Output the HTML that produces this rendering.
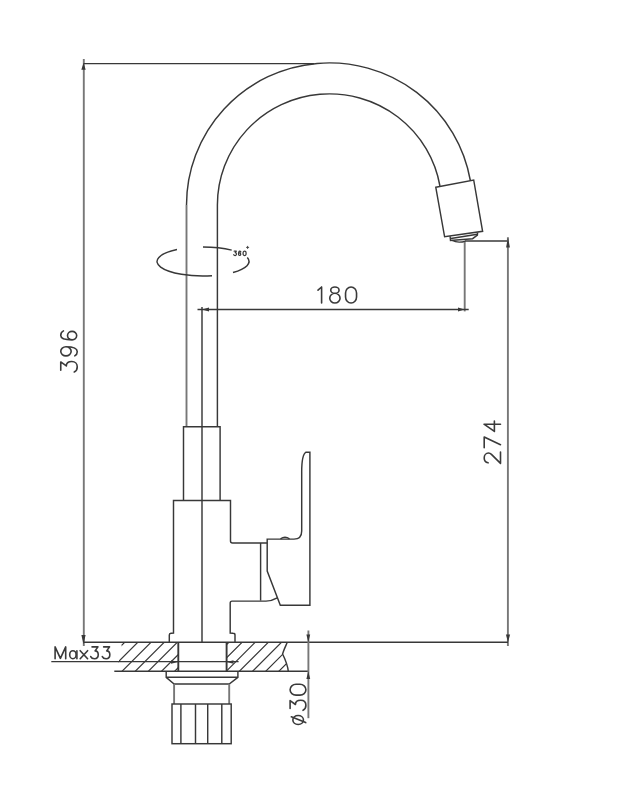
<!DOCTYPE html>
<html><head><meta charset="utf-8">
<style>
html,body{margin:0;padding:0;background:#fff;width:617px;height:800px;overflow:hidden}
svg{display:block}
text{font-family:"Liberation Sans",sans-serif;fill:#3a3a3a}
.gv{stroke:#777;stroke-width:1.9}
</style></head>
<body>
<svg width="617" height="800" viewBox="0 0 617 800">
<rect width="617" height="800" fill="#fff"/>
<g fill="none" stroke="#383838" stroke-width="1.45" stroke-linejoin="miter">
<!-- 396 dimension -->
<line class="gv" x1="83.8" y1="59" x2="83.8" y2="646"/>
<line x1="83.5" y1="63.6" x2="314" y2="63.6"/>
<!-- spout outer/inner arcs -->
<line class="gv" x1="186.5" y1="426.8" x2="186.5" y2="205"/><path d="M186.5,205.01 A143,142.1 0 0 1 470.36,180.5"/><path d="M217.4,426.8 L217.4,205 A112.1,111.1 0 0 1 439.95,186"/>
<!-- nozzle -->
<path d="M435.8,187.3 L473.7,180 L482.6,231.3 L444.6,236.8 Z"/>
<path d="M450.1,236.2 L450.5,240.5 L472.6,238.7 L477.4,235.2 L477.6,232.5"/>
<path d="M451,238.5 L477.3,234.2"/>
<path d="M452.2,240.4 Q457.5,243.4 465.5,241.2"/>
<!-- 274 dimension -->
<line x1="465" y1="241" x2="508" y2="241"/>
<line class="gv" x1="507.9" y1="237.3" x2="507.9" y2="646"/>
<line x1="300" y1="642.3" x2="508" y2="642.3"/>
<!-- 180 dimension -->
<line class="gv" x1="464.7" y1="242" x2="464.7" y2="311.4"/>
<line x1="197.5" y1="309.5" x2="468.7" y2="309.5"/>
<line x1="202" y1="307" x2="202" y2="642.2"/>
<!-- 360 symbol -->
<path d="M177.00,249.54 A46,14.5 0 0 0 212.00,275.72"/><path d="M203.00,247.00 A46,14.5 0 0 1 231.70,250.17"/><path d="M233.00,272.49 A46,14.5 0 0 0 247.30,257.59"/>
<!-- sleeve -->
<path d="M183.5,500.4 L183.5,426.8 L220.1,426.8 L220.1,500.4"/>
<!-- body -->
<path d="M169.3,642.2 L169.3,635 Q169.3,633.5 171,633.3 L173.5,633 L173.5,500.4 L230.5,500.4 L230.5,541 Q230.5,543 232.5,543 L267.3,543"/>
<path d="M235,642.2 L235,635 Q235,633.3 233,633.3 L230.2,633 L230.2,603.2 Q230.2,601.1 232,601.1 L266,601.1 Q272,601 277.2,597.9"/>
<!-- handle -->
<path d="M267.2,571.1 L267.2,539.1 L294,539.1 Q301.7,539.1 301.7,531 L301.7,472 C301.7,461 302.8,454 306,452.2 L309.9,452.2 L309.9,605.3 L280.3,605.3 Z"/>
<path d="M280.5,538.8 Q285,535.6 289.5,538.8"/>
<line x1="260.6" y1="543" x2="260.6" y2="600.6"/>
<!-- countertop -->
<line x1="84" y1="642.3" x2="300" y2="642.3"/>
<line x1="114.3" y1="671.3" x2="308.3" y2="671.3"/>
<line x1="51.3" y1="661.6" x2="238.6" y2="661.6"/>
<!-- shank -->
<line x1="178.3" y1="642.3" x2="178.3" y2="671.3" stroke-width="1.9"/>
<line x1="226.6" y1="642.3" x2="226.6" y2="671.3" stroke-width="1.9"/>
<!-- nut -->
<path d="M166.2,671.3 L166.2,677.3 L174.1,684 L229.2,684 L237.9,677.3 L237.9,671.3"/>
<line x1="166.2" y1="677.3" x2="237.9" y2="677.3"/>
<line class="gv" x1="174.1" y1="684" x2="174.1" y2="704"/>
<line class="gv" x1="229.2" y1="684" x2="229.2" y2="704"/>
<rect x="172" y="704" width="59.2" height="39.7"/>
<line x1="180.9" y1="704" x2="180.9" y2="743.7"/>
<line x1="195.5" y1="704" x2="195.5" y2="743.7"/>
<line x1="207.7" y1="704" x2="207.7" y2="743.7"/>
<line x1="221.8" y1="704" x2="221.8" y2="743.7"/>
<!-- break line -->
<path d="M287.3,642.3 C285.5,646.5 283.5,650.5 282.6,654 C285,659 287.5,664 288.3,671.3"/>
<!-- dia30 dim -->
<line class="gv" x1="308.4" y1="630.5" x2="308.4" y2="718.2"/>
</g>
<!-- hatch -->
<clipPath id="hl"><path d="M119.5,642.3 L121.8,645.8 L118.6,662.5 L114.3,671.3 L178.1,671.3 L178.1,642.3 Z"/></clipPath>
<clipPath id="hr"><path d="M226.4,642.3 L226.4,671.3 L288.3,671.3 C287.5,664 285,659 282.6,654 C283.5,650.5 285.5,646.5 287.3,642.3 Z"/></clipPath>
<g stroke="#383838" stroke-width="1.2" clip-path="url(#hl)"><path d="M753.9,0 L0,753.9 M767.0,0 L0,767.0 M780.1,0 L0,780.1 M793.3,0 L0,793.3 M806.5,0 L0,806.5 M819.6,0 L0,819.6 M832.8,0 L0,832.8 M845.9,0 L0,845.9 M859.0,0 L0,859.0"/></g>
<g stroke="#383838" stroke-width="1.2" clip-path="url(#hr)"><path d="M858.0,0 L0,858.0 M871.2,0 L0,871.2 M884.4,0 L0,884.4 M897.5,0 L0,897.5 M910.6,0 L0,910.6 M923.8,0 L0,923.8 M937.0,0 L0,937.0 M950.1,0 L0,950.1 M963.2,0 L0,963.2"/></g>
<!-- arrowheads -->
<g fill="#383838">
<path d="M83.5,63 L81.3,69.8 L85.7,69.8 Z"/>
<path d="M83.5,644.5 L81.4,635 L85.6,635 Z"/>
<path d="M508,237.3 L506.1,247.4 L509.9,247.4 Z"/>
<path d="M508,642.3 L505.9,634.5 L510.1,634.5 Z"/>
<path d="M202,309.5 L209,307.6 L209,311.4 Z"/>
<path d="M464.7,309.5 L458,307.6 L458,311.4 Z"/>
<path d="M308.3,642.3 L306.4,634.5 L310.2,634.5 Z"/>
<path d="M308.3,671.3 L306.4,679 L310.2,679 Z"/>
<path d="M178.1,662 L171,660.2 L171,663.8 Z"/>
<path d="M226.4,662 L233.5,660.2 L233.5,663.8 Z"/>
</g>
<g fill="none" stroke="#3a3a3a" stroke-width="1.6" stroke-linecap="round" stroke-linejoin="round"><path transform="translate(318,303)" d="M3.6,-16 V0 M3.6,-16 L0,-12.8" vector-effect="non-scaling-stroke"/><path transform="translate(329.75,303)" d="M5.15,-16 A4.15,3.15 0 1 0 5.15,-9.7 A4.15,3.15 0 1 0 5.15,-16 Z M5.15,-9.7 A5.15,4.85 0 1 0 5.15,0 A5.15,4.85 0 1 0 5.15,-9.7 Z" vector-effect="non-scaling-stroke"/><path transform="translate(345.55,303)" d="M0,-10 V-6 A5.5,6 0 0 0 11,-6 V-10 A5.5,6 0 0 0 0,-10 Z" vector-effect="non-scaling-stroke"/></g>
<g fill="none" stroke="#3a3a3a" stroke-width="1.6" stroke-linecap="round" stroke-linejoin="round"><path transform="translate(77.25,372.35) rotate(-90) scale(1.03125)" d="M2.1,-16 H10.1 L6.2,-10.6 C8.9,-10.6 10.5,-8.5 10.5,-5.3 C10.5,-2 8.4,0 5.4,0 C3.1,0 1.1,-1.2 0.3,-2.9" vector-effect="non-scaling-stroke"/><path transform="translate(77.25,355.85) rotate(-90) scale(1.03125)" d="M4.4,-16 A4.4,5.05 0 1 0 4.4,-5.9 A4.4,5.05 0 1 0 4.4,-16 Z M8.8,-10.95 C8.8,-4.5 7,0 4,0 C2.2,0 0.8,-1 0,-2.4" vector-effect="non-scaling-stroke"/><path transform="translate(77.25,340.6) rotate(-90) scale(1.03125)" d="M4.85,-9.45 A4.1,4.45 0 1 0 4.85,-0.55 A4.1,4.45 0 1 0 4.85,-9.45 Z M0.75,-5 C0.75,-12 2.5,-16 5,-16 C7,-16 8.6,-15 9.4,-13.4" vector-effect="non-scaling-stroke"/></g>
<g fill="none" stroke="#3a3a3a" stroke-width="1.6" stroke-linecap="round" stroke-linejoin="round"><path transform="translate(500.5,463.85) rotate(-90) scale(1.01875)" d="M1,-12.2 C1.5,-14.7 3.5,-16 5.8,-16 C8.6,-16 10.6,-14.2 10.6,-11.8 C10.6,-10.6 10.1,-9.7 9.3,-8.9 L0.5,0 H11.7" vector-effect="non-scaling-stroke"/><path transform="translate(500.5,448.25) rotate(-90) scale(1.01875)" d="M0.5,-16 H11 L3.5,0" vector-effect="non-scaling-stroke"/><path transform="translate(500.5,431.45) rotate(-90) scale(1.01875)" d="M7.1,0 V-16.2 L0,-6 H10.3" vector-effect="non-scaling-stroke"/></g>
<g fill="none" stroke="#3a3a3a" stroke-width="1.6" stroke-linecap="round" stroke-linejoin="round"><path transform="translate(305.9,710.6) rotate(-90) scale(0.9875)" d="M2.1,-16 H10.1 L6.2,-10.6 C8.9,-10.6 10.5,-8.5 10.5,-5.3 C10.5,-2 8.4,0 5.4,0 C3.1,0 1.1,-1.2 0.3,-2.9" vector-effect="non-scaling-stroke"/><path transform="translate(305.9,695.15) rotate(-90) scale(0.9875)" d="M0,-10 V-6 A5.5,6 0 0 0 11,-6 V-10 A5.5,6 0 0 0 0,-10 Z" vector-effect="non-scaling-stroke"/></g>
<g fill="none" stroke="#3a3a3a" stroke-width="1.6" stroke-linecap="round" transform="translate(305.9,725) rotate(-90)"><ellipse cx="5" cy="-7.75" rx="4.45" ry="5.3"/><path d="M8.2,-14.6 L2.4,-0.2"/></g>
<g fill="none" stroke="#3a3a3a" stroke-width="1.6" stroke-linecap="round" stroke-linejoin="round"><path d="M55.1,658.7 V646.9 L60.4,658.3 L65.7,646.9 V658.7"/><ellipse cx="72.9" cy="654.7" rx="3.2" ry="4.0"/><path d="M76.9,650.7 V658.7"/><path d="M80.2,650.7 L87.6,658.7 M87.6,650.7 L80.2,658.7"/></g>
<g fill="none" stroke="#3a3a3a" stroke-width="1.6" stroke-linecap="round" stroke-linejoin="round"><path transform="translate(90.5,658.7) scale(0.7375)" d="M2.1,-16 H10.1 L6.2,-10.6 C8.9,-10.6 10.5,-8.5 10.5,-5.3 C10.5,-2 8.4,0 5.4,0 C3.1,0 1.1,-1.2 0.3,-2.9" vector-effect="non-scaling-stroke"/><path transform="translate(102.1,658.7) scale(0.7375)" d="M2.1,-16 H10.1 L6.2,-10.6 C8.9,-10.6 10.5,-8.5 10.5,-5.3 C10.5,-2 8.4,0 5.4,0 C3.1,0 1.1,-1.2 0.3,-2.9" vector-effect="non-scaling-stroke"/></g>
<g fill="none" stroke="#3a3a3a" stroke-width="1.25" stroke-linecap="round" stroke-linejoin="round"><path transform="translate(233.6,255.5) scale(0.27,0.27)" d="M2.1,-16 H10.1 L6.2,-10.6 C8.9,-10.6 10.5,-8.5 10.5,-5.3 C10.5,-2 8.4,0 5.4,0 C3.1,0 1.1,-1.2 0.3,-2.9" vector-effect="non-scaling-stroke"/><path transform="translate(238.3,255.5) scale(0.27,0.27)" d="M4.85,-9.45 A4.1,4.45 0 1 0 4.85,-0.55 A4.1,4.45 0 1 0 4.85,-9.45 Z M0.75,-5 C0.75,-12 2.5,-16 5,-16 C7,-16 8.6,-15 9.4,-13.4" vector-effect="non-scaling-stroke"/><path transform="translate(243.1,255.5) scale(0.27,0.27)" d="M0,-10 V-6 A5.5,6 0 0 0 11,-6 V-10 A5.5,6 0 0 0 0,-10 Z" vector-effect="non-scaling-stroke"/></g>
<path d="M246.1,247.4 H249.1 M247.6,245.9 V248.9" stroke="#3a3a3a" stroke-width="0.9" fill="none"/>
</svg>
</body></html>
